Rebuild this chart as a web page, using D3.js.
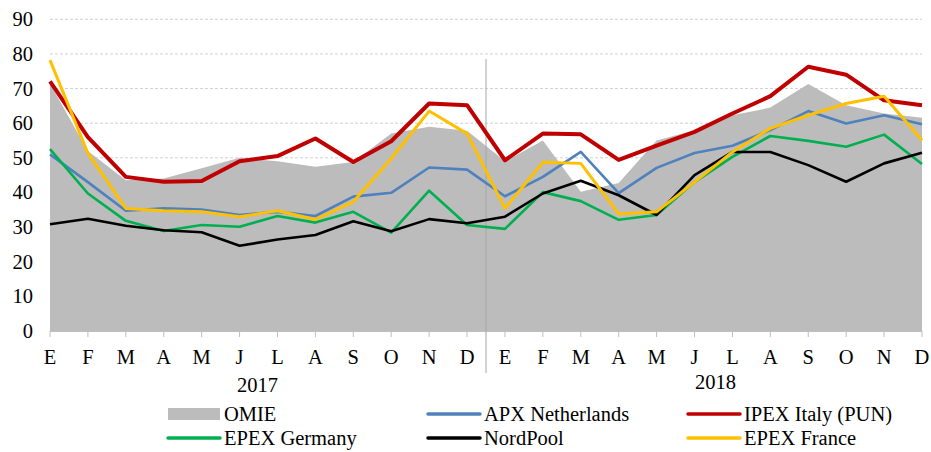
<!DOCTYPE html>
<html><head><meta charset="utf-8">
<script src="https://cdn.jsdelivr.net/npm/d3@7"></script>
<style>body{margin:0;background:#fff}svg{display:block}text{font-family:"Liberation Serif","Times New Roman",serif;fill:#000}</style>
</head><body><svg id="c" width="931" height="452"></svg>
<script>
const months = ["E","F","M","A","M","J","L","A","S","O","N","D","E","F","M","A","M","J","L","A","S","O","N","D"];
const years = ["2017","2018"];
const yTicks = [0,10,20,30,40,50,60,70,80,90];
const omie = [71.4,52,43.5,44,47,50,49,47.4,48.8,57,59,57.8,49,55,40.2,42.7,55,58,62.3,64.5,71.3,65.2,62.8,61.6];
const apx = [51,43,34.7,35.4,35.1,33.5,34.4,33.2,38.8,39.9,47.2,46.6,38.9,44.5,51.7,39.8,47.1,51.4,53.5,58,63.5,59.9,62.3,59.7];
const ipex = [72.1,56,44.5,43.1,43.3,49,50.5,55.6,48.8,54.8,65.7,65.2,49.3,57,56.8,49.4,53.5,57.5,62.8,67.8,76.3,74,66.6,65.2];
const epexDe = [52.5,39.7,31.8,28.9,30.6,30.1,33.2,31.3,34.4,28.4,40.5,30.6,29.5,40.1,37.5,32.1,33.5,43,50.3,56.3,54.9,53.2,56.7,48.2];
const nordpool = [30.8,32.4,30.4,29.1,28.5,24.6,26.4,27.7,31.7,28.8,32.3,31.1,33,39.7,43.4,39.2,33.5,45,51.7,51.7,47.9,43.1,48.4,51.5];
const epexFr = [78.2,51.3,35.4,34.7,34.4,33,34.7,32.2,37.3,49.8,63.5,57,35.4,48.7,48.4,33.8,34.4,43,51.7,58.5,62.3,65.7,67.8,55.1];

const lines = [
  {name:"APX Netherlands", data:apx, color:"#4F81BD", w:2.6},
  {name:"IPEX Italy (PUN)", data:ipex, color:"#C00000", w:4},
  {name:"EPEX Germany", data:epexDe, color:"#00B050", w:2.6},
  {name:"NordPool", data:nordpool, color:"#000000", w:2.6},
  {name:"EPEX France", data:epexFr, color:"#FFC000", w:3}
];

const FS = 20.5;
const svg = d3.select("#c");
const pL = 50, pR = 922, pT = 19.3, pB = 331;
const x = d3.scalePoint().domain(d3.range(24)).range([pL, pR]);
const y = d3.scaleLinear().domain([0,90]).range([pB, pT]);

// gridlines
svg.append("g").selectAll("line").data(yTicks.filter(d=>d>0)).join("line")
  .attr("x1",pL).attr("x2",pR).attr("y1",d=>y(d)).attr("y2",d=>y(d))
  .attr("stroke","#D0D0D0").attr("stroke-width",1).attr("stroke-dasharray","3,2");

// OMIE area
svg.append("path").datum(omie)
  .attr("d", d3.area().x((d,i)=>x(i)).y0(y(0)).y1(d=>y(d)))
  .attr("fill","#BCBCBC");

// y labels
svg.append("g").selectAll("text").data(yTicks).join("text")
  .attr("x",33).attr("y",d=>y(d)+7).attr("text-anchor","end").attr("font-size",FS).text(d=>d);

// x axis
const xa = svg.append("g");
xa.append("line").attr("x1",pL).attr("x2",pR).attr("y1",pB+0.5).attr("y2",pB+0.5).attr("stroke","#BFBFBF");
xa.selectAll("line.t").data(d3.range(24)).join("line").attr("class","t")
  .attr("x1",i=>x(i)).attr("x2",i=>x(i)).attr("y1",pB).attr("y2",pB+6).attr("stroke","#BFBFBF");
xa.selectAll("text.m").data(months).join("text").attr("class","m")
  .attr("x",(d,i)=>x(i)).attr("y",364).attr("text-anchor","middle").attr("font-size",FS).text(d=>d);
// year divider
const xd = (x(11)+x(12))/2;
svg.append("line").attr("x1",xd).attr("x2",xd).attr("y1",59).attr("y2",373).attr("stroke","#A6A6A6").attr("stroke-width",1);
svg.selectAll("text.y").data(years).join("text").attr("class","y")
  .attr("x",(d,i)=> i===0 ? (x(0)+x(11))/2 - 1 : (x(12)+x(23))/2 + 2)
  .attr("y",(d,i)=> i===0 ? 392 : 389).attr("text-anchor","middle").attr("font-size",FS).text(d=>d);

// lines
const lg = d3.line().x((d,i)=>x(i)).y(d=>y(d));
lines.forEach(s=>{
  svg.append("path").datum(s.data).attr("d",lg).attr("fill","none")
    .attr("stroke",s.color).attr("stroke-width",s.w).attr("stroke-linejoin","round");
});

// legend
const legend = [
  {name:"OMIE", color:"#BCBCBC", area:true, col:0, row:0},
  {name:"APX Netherlands", color:"#4F81BD", col:1, row:0},
  {name:"IPEX Italy (PUN)", color:"#C00000", col:2, row:0},
  {name:"EPEX Germany", color:"#00B050", col:0, row:1},
  {name:"NordPool", color:"#000000", col:1, row:1},
  {name:"EPEX France", color:"#FFC000", col:2, row:1}
];
const colX = [168, 428, 688], rowY = [414, 438];
legend.forEach(l=>{
  const lx = colX[l.col], ly = rowY[l.row];
  if(l.area) svg.append("rect").attr("x",lx).attr("y",ly-6).attr("width",52).attr("height",12).attr("fill",l.color);
  else svg.append("line").attr("x1",lx).attr("x2",lx+52).attr("y1",ly).attr("y2",ly)
    .attr("stroke",l.color).attr("stroke-width",3.5).attr("stroke-linecap","round");
  svg.append("text").attr("x",lx+56).attr("y",ly+7).attr("font-size",FS).text(l.name);
});
</script></body></html>
